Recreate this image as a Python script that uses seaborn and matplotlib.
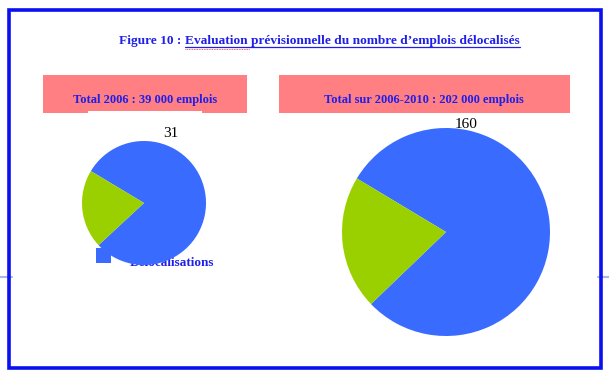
import matplotlib
matplotlib.use("Agg")
import matplotlib.pyplot as plt
import seaborn as sns
from matplotlib.patches import Rectangle

sns.set_theme(style="white")
plt.rcParams['font.family'] = ['Liberation Serif', 'DejaVu Serif']

# Data (thousands of jobs)
categories = ["Délocalisations", "Autres"]
values_2006 = [31, 8]
values_2006_2010 = [160, 42]
box_titles = ["Total 2006 : 39 000 emplois", "Total sur 2006-2010 : 202 000 emplois"]
title_prefix = "Figure 10 : "
title_main = "Evaluation prévisionnelle du nombre d\u2019emplois délocalisés"

colors = ["#3A6BFF", "#9BD000"]
text_blue = "#1F1FE8"

W, H = 609, 377
fig = plt.figure(figsize=(W / 100, H / 100), dpi=100)
ax = fig.add_axes([0, 0, 1, 1])
ax.set_xlim(0, W)
ax.set_ylim(H, 0)
ax.axis("off")

# faint page line outside the frame
ax.plot([0, 12], [277, 277], color="#A9B8E8", lw=1.5, zorder=0)
ax.plot([598, 609], [277, 277], color="#A9B8E8", lw=1.5, zorder=0)

# frame
ax.add_patch(Rectangle((9, 10), 592, 358, fill=False, ec="#0A10F0", lw=2.6, zorder=5))

# title
t1 = ax.text(119, 44, title_prefix, color=text_blue, fontsize=9.6, fontweight="bold",
             ha="left", va="baseline")
fig.canvas.draw()
r = fig.canvas.get_renderer()
bb = t1.get_window_extent(r)
x2 = bb.x1
t2 = ax.text(x2, 44, title_main, color=text_blue, fontsize=9.6, fontweight="bold",
             ha="left", va="baseline")
fig.canvas.draw()
bb2 = t2.get_window_extent(r)
ax.plot([bb2.x0, bb2.x1], [46.5, 46.5], color=text_blue, lw=0.9)
ax.plot([bb2.x0, bb2.x0 + 65], [48.5, 48.5], color="#E03030", lw=0.6, ls=(0, (1, 1)))

# pink header boxes
pink = "#FF7F82"
ax.add_patch(Rectangle((43, 75), 204, 38, fc=pink, ec="none", zorder=1))
ax.add_patch(Rectangle((88, 110.5), 114, 3, fc="white", ec="none", zorder=1.5))
ax.add_patch(Rectangle((279, 75), 291, 38, fc=pink, ec="none", zorder=1))
ax.text(145, 103, box_titles[0], color=text_blue, fontsize=9, fontweight="bold",
        ha="center", va="baseline", zorder=2)
ax.text(424, 103, box_titles[1], color=text_blue, fontsize=9, fontweight="bold",
        ha="center", va="baseline", zorder=2)

# legend (partially hidden under the left pie)
ax.add_patch(Rectangle((96, 248), 15, 15, fc=colors[0], ec="none", zorder=1))
ax.text(130, 266, categories[0], color=text_blue, fontsize=9.5, fontweight="bold",
        ha="left", va="baseline", zorder=1)

# pies
def draw_pie(vals, cx, cy, rad):
    total = sum(vals)
    start = 149 - 360 * vals[0] / total
    wedges, _ = ax.pie(vals, colors=colors, center=(cx, cy), radius=rad,
                       startangle=-start, counterclock=False,
                       wedgeprops=dict(linewidth=0, zorder=3), frame=True)
    return wedges

draw_pie(values_2006, 144, 203, 62)
draw_pie(values_2006_2010, 446, 232, 104)
ax.set_xlim(0, W)
ax.set_ylim(H, 0)
ax.set_aspect("equal")
ax.axis("off")

ax.text(171, 137, str(values_2006[0]), color="black", fontsize=11, ha="center", va="baseline")
ax.text(466, 128, str(values_2006_2010[0]), color="black", fontsize=11, ha="center", va="baseline")

fig.savefig("out.png", dpi=100, facecolor="white")
